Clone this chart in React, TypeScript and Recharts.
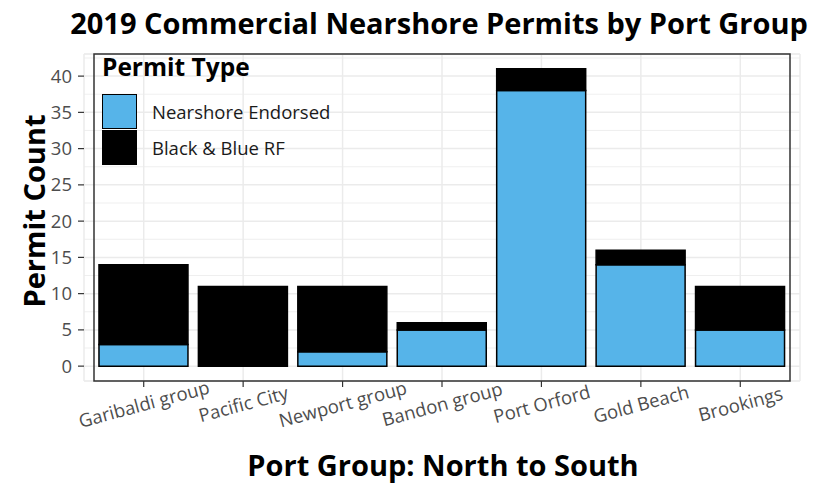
import { BarChart, Bar, XAxis, YAxis, CartesianGrid, ReferenceArea } from 'recharts';

const ports = ['Garibaldi group', 'Pacific City', 'Newport group', 'Bandon group', 'Port Orford', 'Gold Beach', 'Brookings'];
const nearshoreEndorsed = [3, 0, 2, 5, 38, 14, 5];
const blackBlueRF = [11, 11, 9, 1, 3, 2, 6];
const yTicks = [0, 5, 10, 15, 20, 25, 30, 35, 40];
const yMinorTicks = [2.5, 7.5, 12.5, 17.5, 22.5, 27.5, 32.5, 37.5, 42.5];
const legendItems = [
    { name: 'Nearshore Endorsed', color: '#56B4E9' },
    { name: 'Black & Blue RF', color: '#000000' },
];

const data = ports.map((port, i) => ({
    port,
    endorsed: nearshoreEndorsed[i],
    blackBlue: blackBlueRF[i],
}));

const FONT = '"Open Sans", "Noto Sans", sans-serif';

// rotated category labels, centred under each tick
const PortTick = (props: any) => {
    const { x, y, payload } = props;
    const ax = x + 2;
    const ay = y + 21.5;
    return (
        <text
            x={ax}
            y={ay}
            textAnchor="middle"
            fill="#4D4D4D"
            fontSize={18.5}
            fontFamily={FONT}
            transform={`rotate(-15, ${ax}, ${ay})`}
        >
            {payload.value}
        </text>
    );
};

const App = () => {
    return (
        <div style={{ position: 'absolute', left: 0, top: 0, width: 817, height: 484, background: '#fff', fontFamily: FONT, overflow: 'hidden' }}>
            <div style={{ position: 'absolute', left: 0, width: 878, top: 3, textAlign: 'center', fontSize: 29, fontWeight: 700, color: '#000', whiteSpace: 'nowrap' }}>
                2019 Commercial Nearshore Permits by Port Group
            </div>
            <div
                style={{
                    position: 'absolute', left: 33, top: 211, transform: 'translate(-50%, -50%) rotate(-90deg)',
                    fontSize: 29, fontWeight: 700, whiteSpace: 'nowrap', color: '#000',
                }}
            >
                Permit Count
            </div>
            <div style={{ position: 'absolute', left: 0, width: 886, top: 445, textAlign: 'center', fontSize: 29, fontWeight: 700, color: '#000' }}>
                Port Group: North to South
            </div>
            <BarChart
                width={817}
                height={484}
                data={data}
                margin={{ top: 54, right: 17, bottom: 43, left: 44 }}
                barCategoryGap="5%"
            >
                <CartesianGrid yAxisId="minor" vertical={false} stroke="#EBEBEB" strokeWidth={0.8} />
                <CartesianGrid stroke="#EBEBEB" strokeWidth={1.5} />
                <XAxis
                    dataKey="port"
                    height={60}
                    padding={{ left: 10, right: 10 }}
                    axisLine={false}
                    tickLine={{ stroke: '#333333', strokeWidth: 1.2 }}
                    tickSize={6}
                    interval={0}
                    tick={<PortTick />}
                />
                <YAxis
                    width={40}
                    domain={[-2.05, 43.05]}
                    ticks={yTicks}
                    allowDataOverflow
                    axisLine={false}
                    tickLine={{ stroke: '#333333', strokeWidth: 1.2 }}
                    tickSize={6}
                    tickMargin={6}
                    tick={{ fill: '#4D4D4D', fontSize: 18.5, fontFamily: FONT }}
                />
                <YAxis yAxisId="minor" hide domain={[-2.05, 43.05]} ticks={yMinorTicks} allowDataOverflow />
                <Bar dataKey="endorsed" stackId="a" fill="#56B4E9" stroke="#000" strokeWidth={1.5} isAnimationActive={false} />
                <Bar dataKey="blackBlue" stackId="a" fill="#000000" stroke="#000" strokeWidth={1.5} isAnimationActive={false} />
                <ReferenceArea y1={-2.05} y2={43.05} fill="none" stroke="#333333" strokeWidth={1.5} ifOverflow="extendDomain" />
            </BarChart>
            <div style={{ position: 'absolute', left: 102, top: 54 }}>
                <div style={{ fontSize: 24.5, fontWeight: 700, color: '#000', lineHeight: '26px', whiteSpace: 'nowrap' }}>Permit Type</div>
                <div style={{ marginTop: 13 }}>
                    {legendItems.map((item) => (
                        <div key={item.name} style={{ display: 'flex', alignItems: 'center', height: 36 }}>
                            <div style={{ boxSizing: 'border-box', width: 35, height: 35, background: item.color, border: '1.5px solid #000' }} />
                            <span style={{ marginLeft: 15, fontSize: 18.5, color: '#1a1a1a', whiteSpace: 'nowrap' }}>{item.name}</span>
                        </div>
                    ))}
                </div>
            </div>
        </div>
    );
};

export default App;
